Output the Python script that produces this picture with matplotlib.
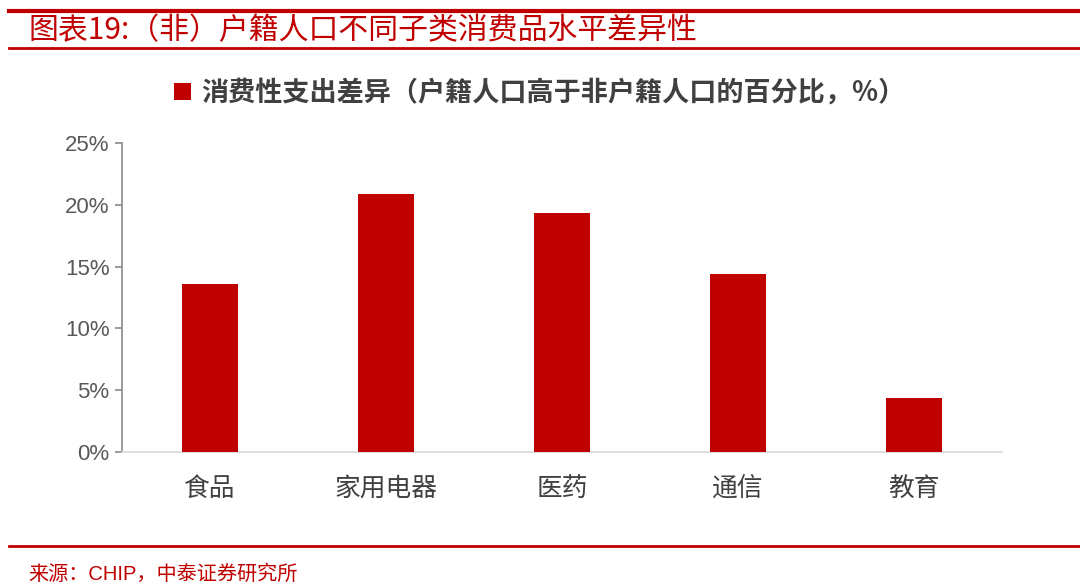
import numpy as np
import matplotlib
matplotlib.use('Agg')
import matplotlib.pyplot as plt
from matplotlib.lines import Line2D
from matplotlib.ticker import FuncFormatter

categories = ['食品', '家用电器', '医药', '通信', '教育']
values = [13.6, 20.9, 19.3, 14.4, 4.4]  # 户籍人口高于非户籍人口的百分比, %
yticks = [0, 5, 10, 15, 20, 25]

title = '图表19:（非）户籍人口不同子类消费品水平差异性'
series_name = '消费性支出差异（户籍人口高于非户籍人口的百分比，%）'
source = '来源：CHIP，中泰证券研究所'

red = '#C00000'
grey = '#595959'
cjk = ['Noto Sans CJK SC', 'Liberation Sans', 'DejaVu Sans']
latin = ['Liberation Sans', 'Noto Sans CJK SC', 'DejaVu Sans']
plt.rcParams['font.family'] = cjk

fig = plt.figure(figsize=(10.8, 5.88), dpi=100)
ax = fig.add_axes([0.113, 0.231, 0.815, 0.526])

x = np.arange(len(categories))
ax.bar(x, values, width=0.32, color=red, label=series_name, zorder=3)

ax.set_xlim(-0.5, len(categories) - 0.5)
ax.set_ylim(0, 25)
ax.set_yticks(yticks)
ax.yaxis.set_major_formatter(FuncFormatter(lambda v, p: '%d%%' % v))
ax.set_xticks(x)
ax.set_xticklabels(categories, fontsize=18.5, color='#404040', family=cjk)
for lab in ax.get_yticklabels():
    lab.set_family(latin)
    lab.set_fontsize(16)
    lab.set_color(grey)

ax.tick_params(axis='x', length=0, pad=17)
ax.tick_params(axis='y', length=5, width=1.2, color='#898989', pad=4)
for s in ['top', 'right']:
    ax.spines[s].set_visible(False)
ax.spines['left'].set_color('#898989')
ax.spines['left'].set_linewidth(1.2)
ax.spines['bottom'].set_color('#D9D9D9')
ax.spines['bottom'].set_linewidth(1.2)

fig.legend(loc='center', bbox_to_anchor=(0.5, 0.842), frameon=False,
           handlelength=0.6, handleheight=0.6, handletextpad=0.4,
           prop={'family': cjk, 'size': 19.5, 'weight': 'bold'},
           labelcolor='#404040')

# header / footer rules and texts
fig.add_artist(Line2D([0.008, 1.0], [1 - 11 / 588, 1 - 11 / 588], color=red, lw=3))
fig.add_artist(Line2D([0.008, 1.0], [1 - 48 / 588, 1 - 48 / 588], color=red, lw=2))
fig.add_artist(Line2D([0.008, 1.0], [1 - 546 / 588, 1 - 546 / 588], color=red, lw=2))

fig.text(0.026, 1 - 31 / 588, title, color=red, fontsize=21.5, style='italic',
         va='center', ha='left', family=cjk)
fig.text(0.026, 1 - 574 / 588, source, color=red, fontsize=14.5,
         va='center', ha='left', family=latin)

fig.savefig('out.png', dpi=100)
